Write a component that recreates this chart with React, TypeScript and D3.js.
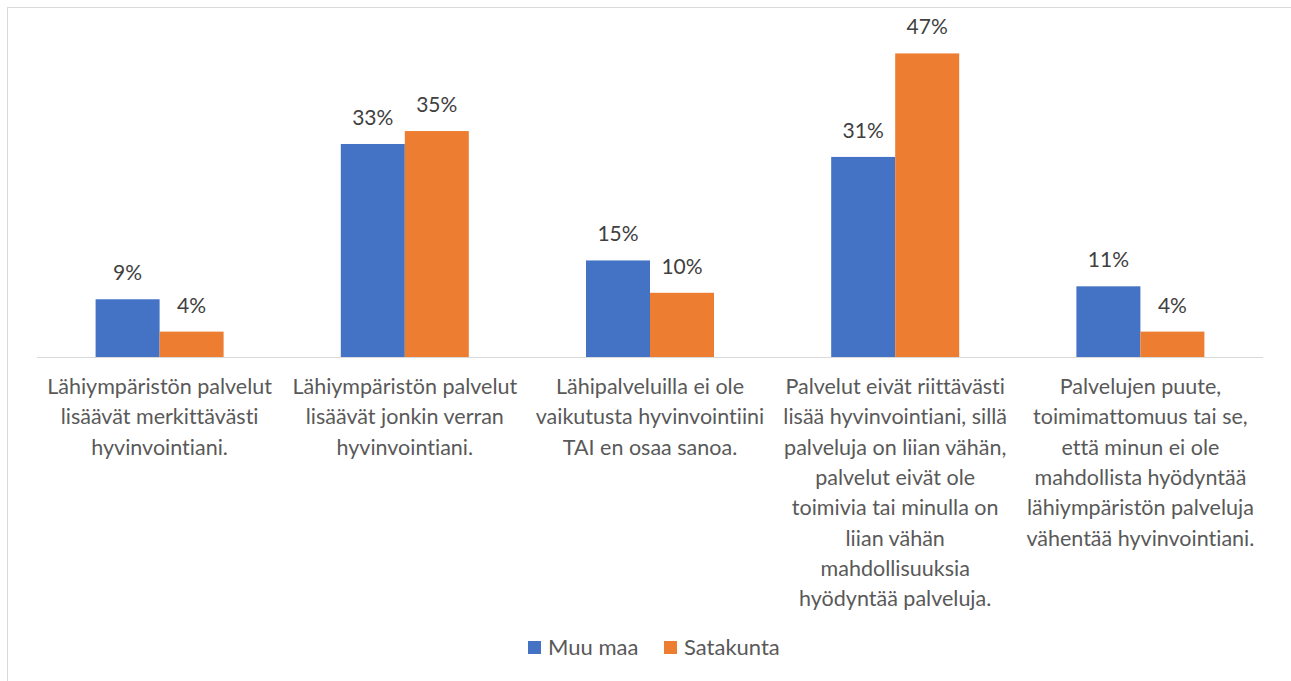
import React from "react";
import * as d3 from "d3";

// Survey categories (each label pre-wrapped into lines)
const categories: string[] = ["c1", "c2", "c3", "c4", "c5"];
const categoryLines: string[][] = [
  ["Lähiympäristön palvelut", "lisäävät merkittävästi", "hyvinvointiani."],
  ["Lähiympäristön palvelut", "lisäävät jonkin verran", "hyvinvointiani."],
  ["Lähipalveluilla ei ole", "vaikutusta hyvinvointiini", "TAI en osaa sanoa."],
  [
    "Palvelut eivät riittävästi",
    "lisää hyvinvointiani, sillä",
    "palveluja on liian vähän,",
    "palvelut eivät ole",
    "toimivia tai minulla on",
    "liian vähän",
    "mahdollisuuksia",
    "hyödyntää palveluja.",
  ],
  [
    "Palvelujen puute,",
    "toimimattomuus tai se,",
    "että minun ei ole",
    "mahdollista hyödyntää",
    "lähiympäristön palveluja",
    "vähentää hyvinvointiani.",
  ],
];

const seriesNames: string[] = ["Muu maa", "Satakunta"];
const muuMaa: number[] = [9, 33, 15, 31, 11];
const satakunta: number[] = [4, 35, 10, 47, 4];
const seriesColors: string[] = ["#4472C4", "#ED7D31"];

const W = 1291;
const H = 681;
const FONT = "Lato, 'Open Sans', sans-serif";

export default function App() {
  const baseY = 357.5;
  const x = d3.scaleBand<string>().domain(categories).range([37, 1263]).padding(0);
  const barW = 64;
  const inner = d3
    .scaleBand<string>()
    .domain(seriesNames)
    .range([-barW, barW])
    .padding(0);
  const y = d3.scaleLinear().domain([0, 50]).range([baseY, baseY - 323.5]);

  const series = [muuMaa, satakunta];

  return (
    <svg
      width={W}
      height={H}
      style={{ position: "absolute", left: 0, top: 0, background: "#fff", fontVariantLigatures: "none" }}
      fontFamily={FONT}
    >
      <rect x={7.5} y={7.5} width={1300} height={700} fill="#fff" stroke="#d9d9d9" strokeWidth={1} />

      {series.map((vals, si) =>
        categories.map((c, ci) => {
          const cx = (x(c) as number) + x.bandwidth() / 2;
          const bx = cx + (inner(seriesNames[si]) as number);
          const top = y(vals[ci]);
          return (
            <g key={`${si}-${ci}`}>
              <rect x={bx} y={top} width={inner.bandwidth()} height={baseY - top} fill={seriesColors[si]} />
              <text
                x={bx + inner.bandwidth() / 2}
                y={top - 19}
                textAnchor="middle"
                fontSize={21}
                fill="#404040"
              >
                {`${vals[ci]}%`}
              </text>
            </g>
          );
        })
      )}

      <line x1={37} x2={1263} y1={baseY} y2={baseY} stroke="#d9d9d9" strokeWidth={1} />

      {categories.map((c, ci) => {
        const cx = (x(c) as number) + x.bandwidth() / 2;
        return (
          <text key={c} textAnchor="middle" fontSize={21.5} fill="#595959">
            {categoryLines[ci].map((line, li) => (
              <tspan key={li} x={cx} y={394 + li * 30.3}>
                {line}
              </tspan>
            ))}
          </text>
        );
      })}

      <g>
        {[528, 664].map((lx, i) => (
          <g key={seriesNames[i]}>
            <rect x={lx} y={641} width={13} height={13} fill={seriesColors[i]} />
            <text x={lx + 20} y={655} fontSize={22} fill="#595959">
              {seriesNames[i]}
            </text>
          </g>
        ))}
      </g>
    </svg>
  );
}
